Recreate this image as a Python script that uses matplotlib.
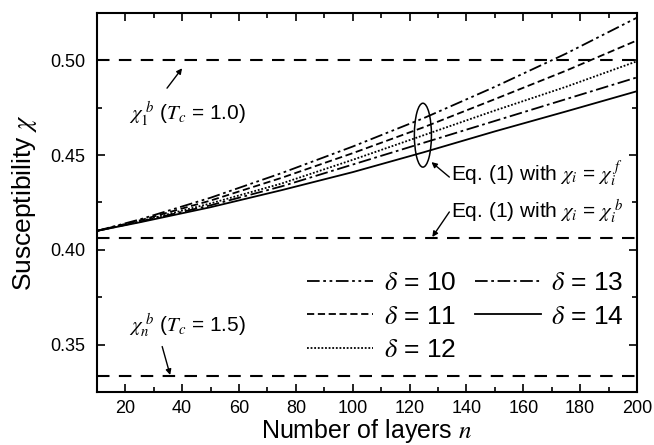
import numpy as np
import matplotlib
matplotlib.use('Agg')
import matplotlib.pyplot as plt
from matplotlib.patches import Ellipse
from matplotlib.ticker import MultipleLocator

plt.rcParams['font.family'] = ['Liberation Sans', 'DejaVu Sans']
plt.rcParams['mathtext.fontset'] = 'stix'

# values
n_layers = [10, 25, 50, 75, 100, 125, 150, 175, 200]
chi_d10 = [0.410, 0.4160, 0.4275, 0.4405, 0.4545, 0.4695, 0.4860, 0.5035, 0.5225]
chi_d11 = [0.410, 0.4155, 0.4260, 0.4380, 0.4510, 0.4647, 0.4795, 0.4945, 0.5105]
chi_d12 = [0.410, 0.4150, 0.4245, 0.4350, 0.4475, 0.4605, 0.4735, 0.4860, 0.4995]
chi_d13 = [0.410, 0.4148, 0.4235, 0.4335, 0.4450, 0.4565, 0.4680, 0.4795, 0.4910]
chi_d14 = [0.410, 0.4145, 0.4225, 0.4315, 0.4410, 0.4515, 0.4625, 0.4730, 0.4837]
deltas = [10, 11, 12, 13, 14]
ref_levels = [0.500, 0.406, 1.0 / 3.0]

series = [chi_d10, chi_d11, chi_d12, chi_d13, chi_d14]
styles = [(0, (7, 2, 1.5, 2, 1.5, 2)),
          (0, (4, 2)),
          (0, (1, 1)),
          (0, (7, 2, 1.5, 2)),
          '-']

fig = plt.figure(figsize=(6.54, 4.45), dpi=100)
ax = fig.add_axes([0.148, 0.119, 0.826, 0.852])

for d, vals, ls in zip(deltas, series, styles):
    ax.plot(n_layers, vals, color='k', lw=1.3, linestyle=ls,
            label=r'$\delta$ = %d' % d)

for lev in ref_levels:
    ax.axhline(lev, color='k', lw=1.5, linestyle=(0, (6, 4.5)))

ax.set_xlim(10, 200)
ax.set_ylim(0.325, 0.525)
ax.xaxis.set_major_locator(MultipleLocator(20))
ax.xaxis.set_minor_locator(MultipleLocator(10))
ax.yaxis.set_major_locator(MultipleLocator(0.05))
ax.yaxis.set_minor_locator(MultipleLocator(0.025))
ax.tick_params(which='both', direction='in', top=True, right=True, width=1.2,
               labelsize=13)
ax.tick_params(which='major', length=6, pad=8)
ax.tick_params(axis='x', which='major', pad=6)
ax.tick_params(which='minor', length=3.5)
ax.set_yticks([0.35, 0.40, 0.45, 0.50])
ax.set_yticklabels(['0.35', '0.40', '0.45', '0.50'])
for sp in ax.spines.values():
    sp.set_linewidth(1.5)

ax.set_xlabel(r'Number of layers $n$', fontsize=18, labelpad=0)
ax.set_ylabel(r'Susceptibility $\chi$', fontsize=19, labelpad=8)

arrow = dict(arrowstyle='-|>', color='k', lw=1.0, mutation_scale=8,
             shrinkA=0, shrinkB=0)

ax.annotate('', xy=(40.0, 0.4958), xytext=(34.7, 0.4853), arrowprops=arrow)
ax.text(21.5, 0.4684, r'$\chi_1^{\ b}$ ($T_c$ = 1.0)', fontsize=15,
        ha='left', va='baseline')

ax.annotate('', xy=(35.8, 0.3340), xytext=(33.0, 0.3490), arrowprops=arrow)
ax.text(21.5, 0.3568, r'$\chi_n^{\ b}$ ($T_c$ = 1.5)', fontsize=15,
        ha='left', va='baseline')

ax.add_patch(Ellipse((124.7, 0.4605), 6.0, 0.0337, fill=False, color='k', lw=1.1))
ax.annotate('', xy=(127.7, 0.4463), xytext=(134.0, 0.4384), arrowprops=arrow)
ax.text(134.7, 0.4400, r'Eq. (1) with $\chi_i$ = $\chi_i^{\ f}$', fontsize=15,
        ha='left', va='center')

ax.annotate('', xy=(128.0, 0.4068), xytext=(134.0, 0.4200), arrowprops=arrow)
ax.text(134.7, 0.4200, r'Eq. (1) with $\chi_i$ = $\chi_i^{\ b}$', fontsize=15,
        ha='left', va='center')

ax.legend(ncol=2, frameon=False, fontsize=19, handlelength=2.5,
          handletextpad=0.4, columnspacing=0.7, labelspacing=0.35,
          loc='upper left', bbox_to_anchor=(0.39, 0.318),
          borderaxespad=0, borderpad=0)

fig.savefig('out.png', dpi=100)
